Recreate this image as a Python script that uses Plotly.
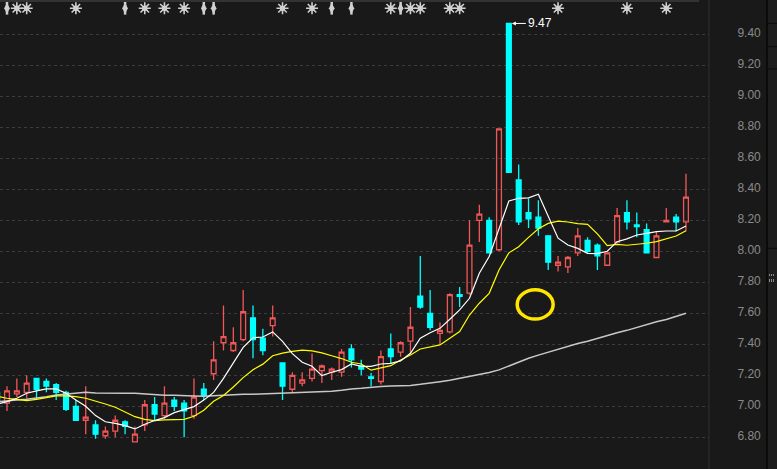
import plotly.graph_objects as go

# ---------------- data ----------------
idx = list(range(-1, 70))

opens = [7.09, 7.02, 7.08, 7.09, 7.18, 7.16, 7.14, 7.09, 7.00, 6.91,
         6.88, 6.81, 6.84, 6.90, 6.77, 6.88, 7.01, 6.94, 7.04, 7.02,
         6.94, 7.11, 7.21, 7.41, 7.36, 7.43, 7.57, 7.44, 7.52, 7.28,
         7.11, 7.15, 7.18, 7.23, 7.22, 7.22, 7.37, 7.26, 7.19, 7.16,
         7.37, 7.35, 7.42, 7.71, 7.60, 7.47, 7.48, 7.72, 7.73, 8.20,
         8.20, 8.01, 9.47, 8.46, 8.25, 8.22, 8.10, 7.91, 7.90, 7.99,
         8.07, 8.04, 7.91, 8.06, 8.25, 8.17, 8.14, 7.96, 8.19, 8.22, 8.19]
highs = [7.12, 7.13, 7.18, 7.20, 7.18, 7.18, 7.15, 7.10, 7.04, 7.13,
         6.91, 6.87, 6.94, 6.91, 6.87, 7.04, 7.06, 7.13, 7.06, 7.04,
         7.18, 7.15, 7.42, 7.65, 7.51, 7.75, 7.65, 7.50, 7.65, 7.28,
         7.22, 7.22, 7.34, 7.27, 7.25, 7.37, 7.40, 7.30, 7.215, 7.36,
         7.47, 7.42, 7.64, 7.97, 7.75, 7.54, 7.73, 7.77, 8.20, 8.30,
         8.22, 8.79, 9.47, 8.56, 8.34, 8.33, 8.10, 7.97, 7.97, 8.15,
         8.09, 8.05, 7.99, 8.28, 8.33, 8.25, 8.18, 8.13, 8.28, 8.24, 8.50]
lows = [7.00, 6.97, 7.06, 7.05, 7.04, 7.09, 7.04, 6.97, 6.91, 6.82,
        6.79, 6.79, 6.80, 6.82, 6.77, 6.84, 6.91, 6.92, 6.97, 6.80,
        6.92, 7.04, 7.17, 7.36, 7.35, 7.42, 7.31, 7.33, 7.45, 7.04,
        7.09, 7.13, 7.16, 7.15, 7.17, 7.19, 7.25, 7.20, 7.13, 7.14,
        7.28, 7.32, 7.34, 7.63, 7.49, 7.40, 7.47, 7.64, 7.72, 8.06,
        7.99, 8.00, 8.51, 8.17, 8.15, 8.10, 7.88, 7.87, 7.86, 7.97,
        7.99, 7.88, 7.91, 8.05, 8.14, 8.09, 7.99, 7.96, 8.19, 8.13, 8.13]
closes = [7.03, 7.10, 7.10, 7.15, 7.11, 7.13, 7.09, 6.98, 6.91, 6.93,
          6.82, 6.84, 6.91, 6.87, 6.82, 7.01, 6.95, 7.02, 7.00, 6.97,
          7.06, 7.07, 7.30, 7.45, 7.41, 7.61, 7.43, 7.36, 7.57, 7.13,
          7.20, 7.17, 7.24, 7.26, 7.24, 7.35, 7.30, 7.24, 7.18, 7.32,
          7.32, 7.41, 7.51, 7.64, 7.51, 7.49, 7.72, 7.71, 8.04, 8.24,
          7.99, 8.79, 8.51, 8.19, 8.21, 8.15, 7.93, 7.93, 7.96, 8.10,
          8.00, 7.97, 7.99, 8.23, 8.19, 8.16, 7.99, 8.10, 8.20, 8.19, 8.35]

ma_white = [7.015, 7.03, 7.052, 7.084, 7.10, 7.112, 7.112, 7.084, 7.041, 7.00,
            6.94, 6.90, 6.89, 6.875, 6.854, 6.884, 6.908, 6.927, 6.959, 6.976,
            6.998, 7.04, 7.09, 7.18, 7.28, 7.38, 7.442, 7.447, 7.48, 7.419,
            7.34, 7.284, 7.258, 7.198, 7.22, 7.237, 7.273, 7.258, 7.258, 7.273,
            7.277, 7.293, 7.342, 7.439, 7.475, 7.503, 7.562, 7.622, 7.697, 7.858,
            7.966, 8.15, 8.325, 8.342, 8.345, 8.368, 8.228, 8.085, 8.041, 8.019,
            7.987, 7.985, 8.00, 8.062, 8.08, 8.105, 8.116, 8.127, 8.131, 8.131, 8.163]
ma_yellow = [7.065, 7.052, 7.045, 7.037, 7.045, 7.056, 7.067, 7.067, 7.062, 7.052,
             7.035, 7.015, 6.994, 6.966, 6.933, 6.916, 6.908, 6.912, 6.916, 6.916,
             6.936, 6.975, 7.032, 7.07, 7.125, 7.185, 7.236, 7.272, 7.326, 7.343,
             7.354, 7.362, 7.358, 7.345, 7.326, 7.308, 7.284, 7.273, 7.233, 7.248,
             7.262, 7.299, 7.331, 7.37, 7.385, 7.396, 7.439, 7.482, 7.589, 7.665,
             7.729, 7.88, 7.99, 8.03, 8.09, 8.145, 8.18, 8.194, 8.189, 8.178,
             8.174, 8.112, 8.037, 8.045, 8.039, 8.045, 8.052, 8.062, 8.082, 8.099, 8.133]
ma_gray = [7.03, 7.037, 7.041, 7.045, 7.052, 7.062, 7.073, 7.08, 7.084, 7.09,
           7.086, 7.084, 7.084, 7.084, 7.084, 7.08, 7.073, 7.071, 7.071, 7.071,
           7.067, 7.065, 7.069, 7.073, 7.075, 7.078, 7.078, 7.08, 7.086, 7.086,
           7.086, 7.088, 7.09, 7.095, 7.097, 7.103, 7.112, 7.116, 7.123, 7.127,
           7.131, 7.133, 7.135, 7.142, 7.149, 7.159, 7.168, 7.181, 7.19, 7.207,
           7.218, 7.235, 7.26, 7.288, 7.31, 7.33, 7.35, 7.37, 7.385, 7.405,
           7.42, 7.44, 7.455, 7.475, 7.49, 7.51, 7.525, 7.545, 7.56, 7.58, 7.60]

sun_idx = [1, 2, 7, 14, 16, 18, 28, 31, 39, 41, 42, 45, 46, 56, 63, 67]
arrow_idx = [0, 12, 20, 21, 33, 35, 40]

tick_vals = [6.6, 6.8, 7.0, 7.2, 7.4, 7.6, 7.8, 8.0, 8.2, 8.4, 8.6, 8.8, 9.0, 9.2, 9.4]
tick_text = ["6.60", "6.80", "7.00", "7.20", "7.40", "7.60", "7.80", "8.00",
             "8.20", "8.40", "8.60", "8.80", "9.00", "9.20", "9.40"]

peak_idx = 51
peak_val = 9.47

# ---------------- figure ----------------
BG = "#191919"
RED = "#f25757"
CYAN = "#00ffff"

fig = go.Figure()

fig.add_trace(go.Candlestick(
    x=idx, open=opens, high=highs, low=lows, close=closes,
    increasing=dict(line=dict(color=RED, width=1.3), fillcolor="rgba(0,0,0,0)"),
    decreasing=dict(line=dict(color=CYAN, width=1.3), fillcolor=CYAN),
    whiskerwidth=0, hoverinfo="skip", showlegend=False,
))

fig.add_trace(go.Scatter(x=idx, y=ma_gray, mode="lines",
                         line=dict(color="#c8c8c8", width=1.5), hoverinfo="skip", showlegend=False))
fig.add_trace(go.Scatter(x=idx, y=ma_yellow, mode="lines",
                         line=dict(color="#ffff00", width=1.2), hoverinfo="skip", showlegend=False))
fig.add_trace(go.Scatter(x=idx, y=ma_white, mode="lines",
                         line=dict(color="#ffffff", width=1.2), hoverinfo="skip", showlegend=False))

# top signal markers (paper-height overlay axis)
top_y = 1 - 8.3 / 469
fig.add_trace(go.Scatter(x=sun_idx, y=[top_y] * len(sun_idx), yaxis="y2", mode="markers",
                         marker=dict(symbol="asterisk-open", size=10, color="#d0d0d0",
                                     line=dict(color="#d0d0d0", width=1.6)),
                         hoverinfo="skip", showlegend=False))
fig.add_trace(go.Scatter(x=sun_idx, y=[top_y] * len(sun_idx), yaxis="y2", mode="markers",
                         marker=dict(symbol="square", size=5, color="#d0d0d0"),
                         hoverinfo="skip", showlegend=False))
fig.add_trace(go.Scatter(x=arrow_idx, y=[top_y] * len(arrow_idx), yaxis="y2", mode="markers",
                         marker=dict(symbol="line-ns-open", size=9, color="#d0d0d0",
                                     line=dict(color="#d0d0d0", width=2.5)),
                         hoverinfo="skip", showlegend=False))
fig.add_trace(go.Scatter(x=arrow_idx, y=[top_y] * len(arrow_idx), yaxis="y2", mode="markers",
                         marker=dict(symbol="diamond-tall", size=8, color="#d0d0d0"),
                         hoverinfo="skip", showlegend=False))

XD = 709 / 777
fig.update_layout(
    width=777, height=469,
    margin=dict(l=0, r=0, t=0, b=0, autoexpand=False),
    paper_bgcolor=BG, plot_bgcolor=BG,
    showlegend=False,
    xaxis=dict(domain=[0, XD], range=[-0.711, 71.34], showgrid=False, zeroline=False,
               showticklabels=False, ticks="", rangeslider=dict(visible=False),
               fixedrange=True, automargin=False),
    yaxis=dict(side="right", range=[6.5955, 9.6213], tickvals=tick_vals, ticktext=tick_text,
               showgrid=True, gridcolor="#3c3c3c", griddash="dot", gridwidth=1,
               zeroline=False, ticks="outside", ticklen=25, tickcolor="rgba(0,0,0,0)",
               ticklabelshift=-2, automargin=False, fixedrange=True,
               tickfont=dict(family="Liberation Sans, Arial", size=12, color="#8a8a8a"),
               showline=False),
    yaxis2=dict(overlaying="y", range=[0, 1], visible=False, fixedrange=True),
    annotations=[dict(x=peak_idx, y=peak_val, xref="x", yref="y", text=f"{peak_val:.2f}",
                      showarrow=True, ax=17, ay=0, xanchor="left", arrowhead=2,
                      arrowsize=0.8, arrowwidth=1, arrowcolor="#ffffff", standoff=3,
                      font=dict(family="Liberation Sans, Arial", size=12, color="#ffffff"))],
    shapes=[
        dict(type="line", xref="paper", yref="paper", x0=0, x1=699 / 777, y0=0.998, y1=0.998,
             line=dict(color="#333333", width=2)),
        dict(type="line", xref="paper", yref="paper", x0=XD, x1=XD, y0=0, y1=1,
             line=dict(color="#2e2e2e", width=1)),
        dict(type="rect", xref="paper", yref="paper", x0=768 / 777, x1=1, y0=0, y1=1,
             line=dict(width=0), fillcolor="#1d1d1d"),
        dict(type="line", xref="paper", yref="paper", x0=767 / 777, x1=767 / 777, y0=0, y1=1,
             line=dict(color="#0b0b0b", width=2)),
        dict(type="line", xref="paper", yref="paper", x0=767 / 777, x1=1,
             y0=1 - 23.3 / 469, y1=1 - 23.3 / 469, line=dict(color="#0b0b0b", width=1)),
        dict(type="line", xref="paper", yref="paper", x0=767 / 777, x1=1,
             y0=1 - 46.7 / 469, y1=1 - 46.7 / 469, line=dict(color="#0b0b0b", width=1)),
        dict(type="line", xref="paper", yref="paper", x0=767 / 777, x1=1,
             y0=1 - 69 / 469, y1=1 - 69 / 469, line=dict(color="#0b0b0b", width=1)),
        dict(type="line", xref="paper", yref="paper", x0=767 / 777, x1=1,
             y0=1 - 248.3 / 469, y1=1 - 248.3 / 469, line=dict(color="#0b0b0b", width=1)),
        dict(type="line", xref="paper", yref="paper", x0=769.5 / 777, x1=769.5 / 777,
             y0=1 - 282 / 469, y1=1 - 274 / 469, line=dict(color="#8a8a8a", width=1, dash="dot")),
        dict(type="line", xref="paper", yref="paper", x0=771.5 / 777, x1=771.5 / 777,
             y0=1 - 282 / 469, y1=1 - 274 / 469, line=dict(color="#8a8a8a", width=1, dash="dot")),
        dict(type="line", xref="paper", yref="paper", x0=773.5 / 777, x1=773.5 / 777,
             y0=1 - 282 / 469, y1=1 - 274 / 469, line=dict(color="#8a8a8a", width=1, dash="dot")),
        dict(type="circle", xref="x", yref="y", x0=51.85, x1=55.5, y0=7.563, y1=7.752,
             line=dict(color="#ffe500", width=3.5)),
    ],
)

fig.write_html("out.html", config={"displayModeBar": False, "staticPlot": True},
               post_script="document.body.style.margin='0';document.body.style.overflow='hidden';")
